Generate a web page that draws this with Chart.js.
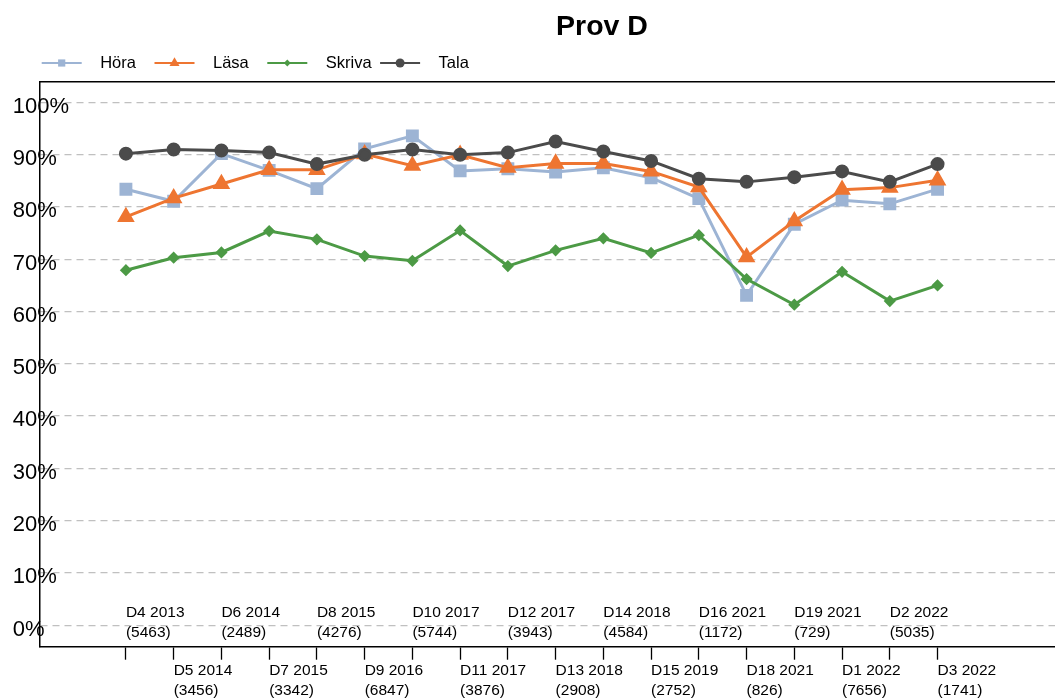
<!DOCTYPE html>
<html>
<head>
<meta charset="utf-8">
<script src="https://cdn.jsdelivr.net/npm/chart.js@4.4.1/dist/chart.umd.min.js"></script>
<style>
  html, body { margin: 0; padding: 0; background: #fff; }
  #wrap { width: 1055px; height: 699px; }
</style>
</head>
<body>
<div id="wrap"><canvas id="chart" width="1055" height="699"></canvas></div>
<script>
// data
const categories = ['D4 2013', 'D5 2014', 'D6 2014', 'D7 2015', 'D8 2015', 'D9 2016', 'D10 2017', 'D11 2017', 'D12 2017',
  'D13 2018', 'D14 2018', 'D15 2019', 'D16 2021', 'D18 2021', 'D19 2021', 'D1 2022', 'D2 2022', 'D3 2022'];
const counts = [5463, 3456, 2489, 3342, 4276, 6847, 5744, 3876, 3943, 2908, 4584, 2752, 1172, 826, 729, 7656, 5035, 1741];
const hora = [83.4, 81.1, 90.2, 87.0, 83.5, 91.1, 93.6, 86.9, 87.3, 86.7, 87.5, 85.6, 81.6, 63.1, 76.7, 81.3, 80.6, 83.4];
const lasa = [78.1, 81.7, 84.4, 87.1, 87.1, 90.1, 87.9, 90.0, 87.5, 88.3, 88.3, 86.8, 83.8, 70.4, 77.3, 83.3, 83.7, 85.1];
const skriva = [67.9, 70.3, 71.3, 75.4, 73.8, 70.6, 69.7, 75.5, 68.7, 71.7, 74.0, 71.2, 74.6, 66.2, 61.3, 67.6, 62.0, 65.0];
const tala = [90.2, 91.0, 90.8, 90.4, 88.2, 90.0, 91.0, 90.0, 90.4, 92.5, 90.6, 88.8, 85.4, 84.8, 85.7, 86.8, 84.8, 88.2];
const yTicks = [0, 10, 20, 30, 40, 50, 60, 70, 80, 90, 100];

const FONT = "'Liberation Sans', Arial, sans-serif";
Chart.defaults.font.family = FONT;

const colors = { hora: '#9db4d4', lasa: '#ee7531', skriva: '#4c9a45', tala: '#4b4b4b' };
const legendMarker = { rect: 3.6, triangle: 5.8, rectRot: 3.4, circle: 4.5 };

const toPoints = (arr) => arr.map((v, i) => ({ x: i, y: v }));
const xMin = -1.81, xMax = 19.46;

function marker(ctx, style, x, y, r) {
  ctx.beginPath();
  if (style === 'circle') {
    ctx.arc(x, y, r, 0, Math.PI * 2);
  } else if (style === 'rect') {
    ctx.rect(x - r, y - r, 2 * r, 2 * r);
  } else if (style === 'triangle') {
    ctx.moveTo(x, y - r);
    ctx.lineTo(x + r * 0.866, y + r / 2);
    ctx.lineTo(x - r * 0.866, y + r / 2);
    ctx.closePath();
  } else if (style === 'rectRot') {
    ctx.moveTo(x, y - r);
    ctx.lineTo(x + r, y);
    ctx.lineTo(x, y + r);
    ctx.lineTo(x - r, y);
    ctx.closePath();
  }
  ctx.fill();
}

// title, legend, upper row of category labels
const extras = {
  id: 'extras',
  afterDraw(chart) {
    const ctx = chart.ctx;
    const xs = chart.scales.x;
    const bottom = chart.chartArea.bottom;
    ctx.save();
    ctx.fillStyle = '#000';
    ctx.textBaseline = 'middle';
    ctx.textAlign = 'center';
    ctx.font = 'bold 28.5px ' + FONT;
    ctx.fillText('Prov D', 602, 27);

    ctx.textAlign = 'left';
    ctx.font = '15.5px ' + FONT;
    categories.forEach((c, i) => {
      if (i % 2 !== 0) return;
      const x = xs.getPixelForValue(i);
      ctx.fillText(c, x, bottom - 33.5);
      ctx.fillText('(' + counts[i] + ')', x, bottom - 14);
    });

    ctx.font = '16.5px ' + FONT;
    chart.data.datasets.forEach((ds, k) => {
      const x0 = 41.7 + k * 112.8, y = 63;
      ctx.strokeStyle = ds.borderColor;
      ctx.fillStyle = ds.borderColor;
      ctx.lineWidth = 2;
      ctx.beginPath();
      ctx.moveTo(x0, y);
      ctx.lineTo(x0 + 40, y);
      ctx.stroke();
      marker(ctx, ds.pointStyle, x0 + 20, y, legendMarker[ds.pointStyle]);
      ctx.fillStyle = '#000';
      ctx.fillText(ds.label, x0 + 58.5, y);
    });
    ctx.restore();
  }
};

new Chart(document.getElementById('chart'), {
  type: 'line',
  data: {
    datasets: [
      { label: 'Höra', data: toPoints(hora), borderColor: colors.hora, backgroundColor: colors.hora,
        borderWidth: 3, pointStyle: 'rect', pointRadius: 7, order: 3 },
      { label: 'Läsa', data: toPoints(lasa), borderColor: colors.lasa, backgroundColor: colors.lasa,
        borderWidth: 3, pointStyle: 'triangle', pointRadius: 7.2, order: 2 },
      { label: 'Skriva', data: toPoints(skriva), borderColor: colors.skriva, backgroundColor: colors.skriva,
        borderWidth: 3, pointStyle: 'rectRot', pointRadius: 4, order: 1 },
      { label: 'Tala', data: toPoints(tala), borderColor: colors.tala, backgroundColor: colors.tala,
        borderWidth: 3, pointStyle: 'circle', pointRadius: 5.5, order: 0 }
    ]
  },
  options: {
    responsive: false,
    animation: false,
    layout: { autoPadding: false, padding: { top: 82, left: 12.5, right: 0, bottom: 0 } },
    plugins: { legend: { display: false }, title: { display: false }, tooltip: { enabled: false } },
    elements: { line: { tension: 0 }, point: { borderWidth: 1 } },
    scales: {
      x: {
        type: 'linear', position: 'bottom', min: xMin, max: xMax,
        afterBuildTicks: (s) => { s.ticks = categories.map((c, i) => ({ value: i })); },
        afterFit: (s) => { s.height = 52.3; },
        grid: { drawOnChartArea: false, drawTicks: true, tickLength: 13, color: '#000', tickWidth: 1.3 },
        border: { display: true, color: '#000', width: 1.5 },
        ticks: {
          autoSkip: false, maxRotation: 0, minRotation: 0, align: 'start', padding: 1.5, color: '#000',
          font: { size: 15.5, lineHeight: 1.26 },
          callback: (v) => (v % 2 === 1 ? [categories[v], '(' + counts[v] + ')'] : '')
        }
      },
      x2: {
        type: 'linear', position: 'top', min: xMin, max: xMax,
        grid: { display: false, drawTicks: false },
        ticks: { display: false },
        border: { display: true, color: '#000', width: 1.5 }
      },
      y: {
        min: -4.1, max: 103.9,
        afterBuildTicks: (s) => { s.ticks = yTicks.map((v) => ({ value: v })); },
        afterFit: (s) => { s.width = 27; },
        grid: { color: '#c0c0c0', lineWidth: 1.3, drawTicks: false },
        border: { display: true, color: '#000', width: 1.5, dash: [7, 5] },
        ticks: {
          mirror: true, crossAlign: 'near', padding: -26.8, labelOffset: 4.2, color: '#000', font: { size: 22 },
          callback: (v) => v + '%'
        }
      }
    }
  },
  plugins: [extras]
});
</script>
</body>
</html>
